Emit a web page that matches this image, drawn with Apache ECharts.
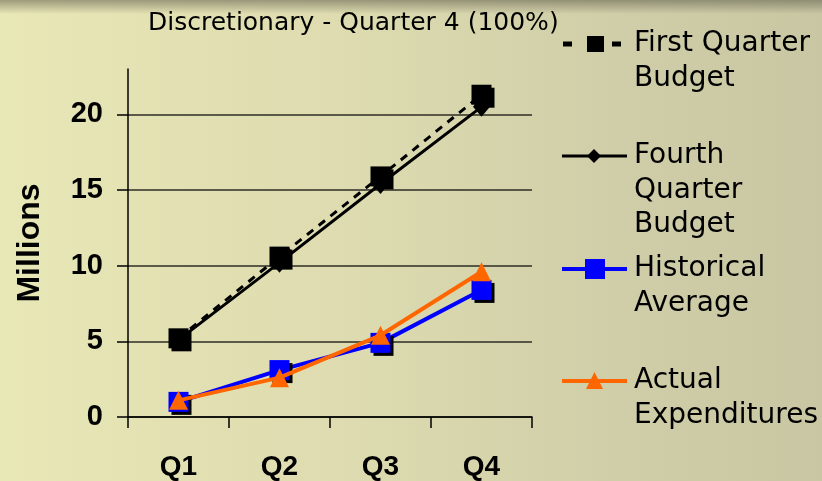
<!DOCTYPE html>
<html>
<head>
<meta charset="utf-8">
<script src="https://cdn.jsdelivr.net/npm/echarts@6/dist/echarts.min.js"></script>
<style>
html,body{margin:0;padding:0;}
#chart{width:822px;height:481px;
background:
 linear-gradient(to bottom, rgba(95,93,75,0.55) 0px, rgba(95,93,75,0.0) 14px),
 linear-gradient(to right, #e8e7b6 0%, #dedcb0 40%, #d0cea8 75%, #c9c7a3 100%);}
</style>
</head>
<body>
<div id="chart"></div>
<script>
var titleText = 'Discretionary - Quarter 4 (100%)';
var yAxisName = 'Millions';
var categories = ['Q1', 'Q2', 'Q3', 'Q4'];
var yTicks = [0, 5, 10, 15, 20];
var seriesNames = ['First Quarter\nBudget', 'Fourth\nQuarter\nBudget', 'Historical\nAverage', 'Actual\nExpenditures'];
var firstQuarterBudget = [5.2, 10.6, 15.9, 21.3];
var fourthQuarterBudget = [5.1, 10.2, 15.4, 20.5];
var historicalAverage = [1.0, 3.1, 4.9, 8.4];
var actualExpenditures = [1.1, 2.6, 5.4, 9.6];

var chart = echarts.init(document.getElementById('chart'), null, {renderer: 'canvas'});

var shadow = {shadowColor: '#000', shadowOffsetX: 3, shadowOffsetY: 3, shadowBlur: 0};

// legend drawn as graphic
var legendTop = [44, 156, 269, 381];
var legendSpacing = 34.5;
var lg = [];
var styles = [
  {color: '#000', dash: true, symbol: 'rect'},
  {color: '#000', dash: false, symbol: 'diamond'},
  {color: '#0000ff', dash: false, symbol: 'rect'},
  {color: '#ff6600', dash: false, symbol: 'triangle'}
];
seriesNames.forEach(function (name, i) {
  var cy = legendTop[i];
  var st = styles[i];
  if (st.dash) {
    lg.push({type: 'rect', shape: {x: 563, y: cy - 2.5, width: 9, height: 5}, style: {fill: '#000'}});
    lg.push({type: 'rect', shape: {x: 612, y: cy - 2.5, width: 9, height: 5}, style: {fill: '#000'}});
    lg.push({type: 'rect', shape: {x: 587, y: cy - 8, width: 17, height: 16}, style: {fill: '#000'}});
  } else {
    lg.push({type: 'line', shape: {x1: 562, y1: cy, x2: 627, y2: cy}, style: {stroke: st.color, lineWidth: i === 1 ? 3 : 4}});
    if (st.symbol === 'diamond') {
      lg.push({type: 'polygon', shape: {points: [[594, cy - 7], [601, cy], [594, cy + 7], [587, cy]]}, style: {fill: st.color}});
    } else if (st.symbol === 'rect') {
      lg.push({type: 'rect', shape: {x: 585, y: cy - 10, width: 20, height: 20}, style: {fill: st.color}});
    } else {
      lg.push({type: 'polygon', shape: {points: [[594.5, cy - 9], [603, cy + 8], [586, cy + 8]]}, style: {fill: st.color}});
    }
  }
  name.split('\n').forEach(function (line, j) {
    lg.push({type: 'text', x: 634, y: cy + j * legendSpacing, style: {
      text: line, fill: '#000', font: '28px "DejaVu Sans"', textVerticalAlign: 'middle', textAlign: 'left'}});
  });
});

var option = {
  backgroundColor: 'transparent',
  animation: false,
  title: {
    text: titleText, left: 143, top: 6,
    textStyle: {fontFamily: 'DejaVu Sans', fontSize: 25, fontWeight: 'normal', color: '#000'}
  },
  grid: {left: 128, right: 290, top: 69, bottom: 64, containLabel: false},
  xAxis: {
    type: 'category', data: categories, boundaryGap: true,
    axisLine: {lineStyle: {color: '#000', width: 1.5}},
    axisTick: {show: true, alignWithLabel: false, length: 11, lineStyle: {color: '#000', width: 1.5}},
    axisLabel: {margin: 36, color: '#000', fontFamily: 'Liberation Sans', fontWeight: 'bold', fontSize: 28}
  },
  yAxis: {
    type: 'value', min: 0, max: 23, interval: 5,
    name: yAxisName, nameLocation: 'middle', nameGap: 82, nameRotate: 90,
    nameTextStyle: {color: '#000', fontFamily: 'Liberation Sans', fontWeight: 'bold', fontSize: 32},
    axisLine: {show: true, lineStyle: {color: '#000', width: 1.5}},
    axisTick: {show: true, length: 11, customValues: yTicks, lineStyle: {color: '#000', width: 1.5}},
    axisLabel: {margin: 25, customValues: yTicks, color: '#000', fontFamily: 'Liberation Sans', fontWeight: 'bold', fontSize: 29},
    splitLine: {show: true, lineStyle: {color: '#2e2d25', width: 1.5}}
  },
  series: [
    {name: seriesNames[0], type: 'line', data: firstQuarterBudget, symbol: 'rect', symbolSize: 20,
     lineStyle: {color: '#000', width: 3, type: [8, 7]}, itemStyle: Object.assign({color: '#000'}, shadow), z: 3},
    {name: seriesNames[1], type: 'line', data: fourthQuarterBudget, symbol: 'diamond', symbolSize: [17, 20],
     lineStyle: {color: '#000', width: 3}, itemStyle: {color: '#000'}, z: 2},
    {name: seriesNames[2], type: 'line', data: historicalAverage, symbol: 'rect', symbolSize: 20,
     lineStyle: {color: '#0000ff', width: 4}, itemStyle: Object.assign({color: '#0000ff'}, shadow), z: 4},
    {name: seriesNames[3], type: 'line', data: actualExpenditures, symbol: 'triangle', symbolSize: 19,
     lineStyle: {color: '#ff6600', width: 4}, itemStyle: {color: '#ff6600'}, z: 5}
  ],
  graphic: lg
};
chart.setOption(option);
</script>
</body>
</html>
